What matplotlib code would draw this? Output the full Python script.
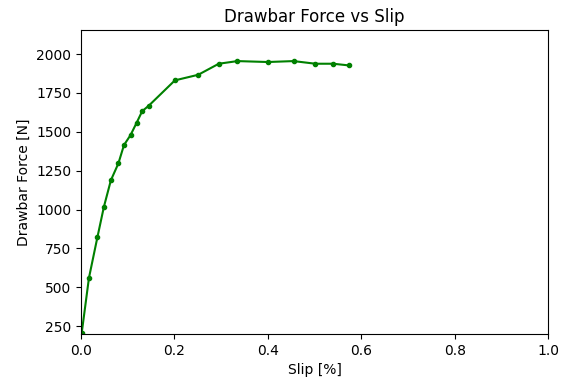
import matplotlib
matplotlib.use("Agg")
import matplotlib.pyplot as plt

slip = [0.0015, 0.017, 0.035, 0.049, 0.064, 0.080, 0.092, 0.106, 0.119, 0.131,
        0.145, 0.201, 0.251, 0.295, 0.335, 0.400, 0.455, 0.502, 0.540, 0.574]
force = [207, 561, 821, 1018, 1189, 1297, 1415, 1479, 1558, 1633,
         1668, 1831, 1867, 1938, 1955, 1949, 1955, 1938, 1938, 1927]


def make_figure():
    fig = plt.figure(figsize=(5.65, 3.83), dpi=100)
    ax = fig.add_axes([0.1434, 0.128, 0.8266, 0.7937])
    return fig, ax


if __name__ == '__main__':
    fig, ax = make_figure()
    ax.plot(slip, force, 'g.-')
    ax.set_xlim(0, 1)
    ax.set_ylim(200, 2155)
    ax.set_yticks([250, 500, 750, 1000, 1250, 1500, 1750, 2000])
    ax.set_xlabel('Slip [%]')
    ax.set_ylabel('Drawbar Force [N]')
    ax.set_title('Drawbar Force vs Slip')
    fig.savefig("out.png", dpi=100)
